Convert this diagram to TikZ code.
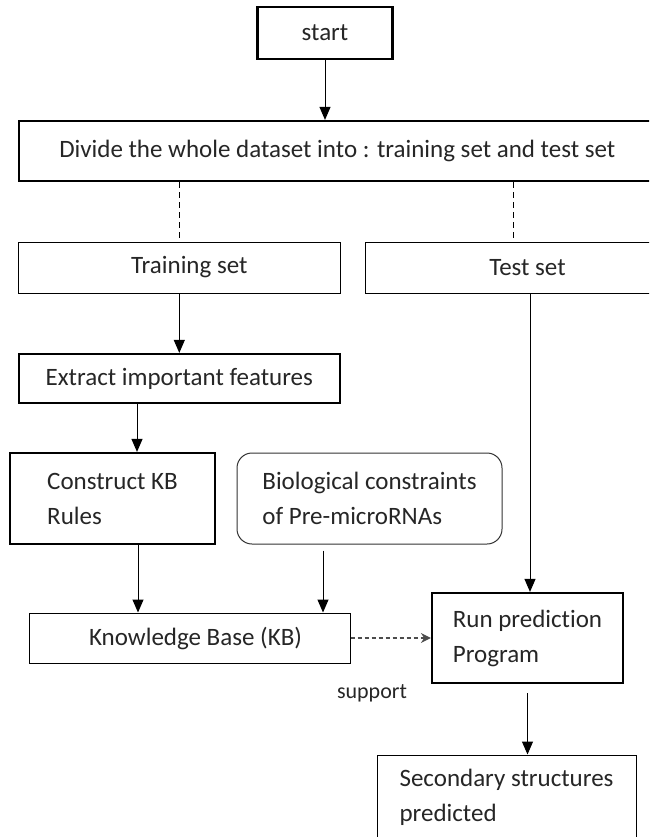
\documentclass[tikz,border=0pt]{standalone}
\usepackage{fontspec}
\setmainfont{Carlito}[Ligatures=NoCommon]
\usetikzlibrary{arrows.meta}
\begin{document}
\begin{tikzpicture}[x=1pt,y=-1pt,
  box/.style={draw, rectangle, inner sep=0pt, font=\fontsize{25}{35}\selectfont, align=left, text=black!85},
  thickbox/.style={box, line width=2.2pt},
  thinbox/.style={box, line width=1pt},
  roundbox/.style={box, line width=1pt, rounded corners=15pt, draw=black!80},
  link/.style={line width=1pt, -{Triangle[width=11pt,length=13pt]}},
  dline/.style={line width=1pt, dash pattern=on 6pt off 4pt},
  darrow/.style={line width=1.2pt, dash pattern=on 4pt off 3pt, draw=black!70, -{Stealth[width=10pt,length=10pt]}}
]
\path[use as bounding box, clip] (0,0) rectangle (649,837);
\fill[white] (0,0) rectangle (649,837);

\node[thickbox, minimum width=135pt, minimum height=52pt] (start) at (325,33) {start};
\node[thickbox, minimum width=637.4pt, minimum height=60pt] (divide) at (337.3,151) {Divide the whole dataset into : training set and test set};
\node[thinbox, minimum width=321.4pt, minimum height=51pt] (train) at (179.3,267.5) {\hspace*{20pt}Training set};
\node[thinbox, minimum width=325pt, minimum height=51pt] (test) at (527.5,267.5) {Test set};
\node[thickbox, minimum width=321.4pt, minimum height=49pt] (extract) at (179.3,378.5) {Extract important features};
\node[thickbox, minimum width=205pt, minimum height=91pt] (construct) at (112.5,498.5) {Construct KB\\Rules};
\node[roundbox, minimum width=265pt, minimum height=91pt] (bio) at (369.5,498.5) {Biological constraints\\of Pre-microRNAs};
\node[thinbox, minimum width=321pt, minimum height=50pt] (kb) at (189.5,638) {\hspace*{12pt}Knowledge Base (KB)};
\node[thickbox, minimum width=191pt, minimum height=90pt] (run) at (527.5,638) {Run prediction\\Program};
\node[thinbox, minimum width=259pt, minimum height=84pt] (sec) at (506.5,797) {Secondary structures\\predicted};
\node[font=\fontsize{22}{26}\selectfont, text=black!85, inner sep=0pt] (support) at (372,693) {support};

\coordinate (tx) at ([xshift=-14.5pt]test.north);
\coordinate (ty) at ([xshift=2.5pt]test.south);
\coordinate (cx) at ([xshift=24.5pt]construct.north);
\coordinate (cx2) at ([xshift=25.5pt]construct.south);
\coordinate (bx) at ([xshift=-46.5pt,yshift=-6pt]bio.south);
\coordinate (rx) at ([yshift=-9pt]run.south);

\draw[link] (start.south) -- (start.south |- divide.north);
\draw[dline] (train.north |- divide.south) -- (train.north);
\draw[dline] (tx |- divide.south) -- (tx);
\draw[link] (train.south) -- (extract.north);
\draw[link] (extract.south -| cx) -- (cx);
\draw[link] (cx2) -- (cx2 |- kb.north);
\draw[link] (bx) -- (bx |- kb.north);
\draw[link] (ty) -- (ty |- run.north);
\draw[darrow] (kb.east) -- (run.west);
\draw[link] (rx) -- (rx |- sec.north);
\end{tikzpicture}
\end{document}
